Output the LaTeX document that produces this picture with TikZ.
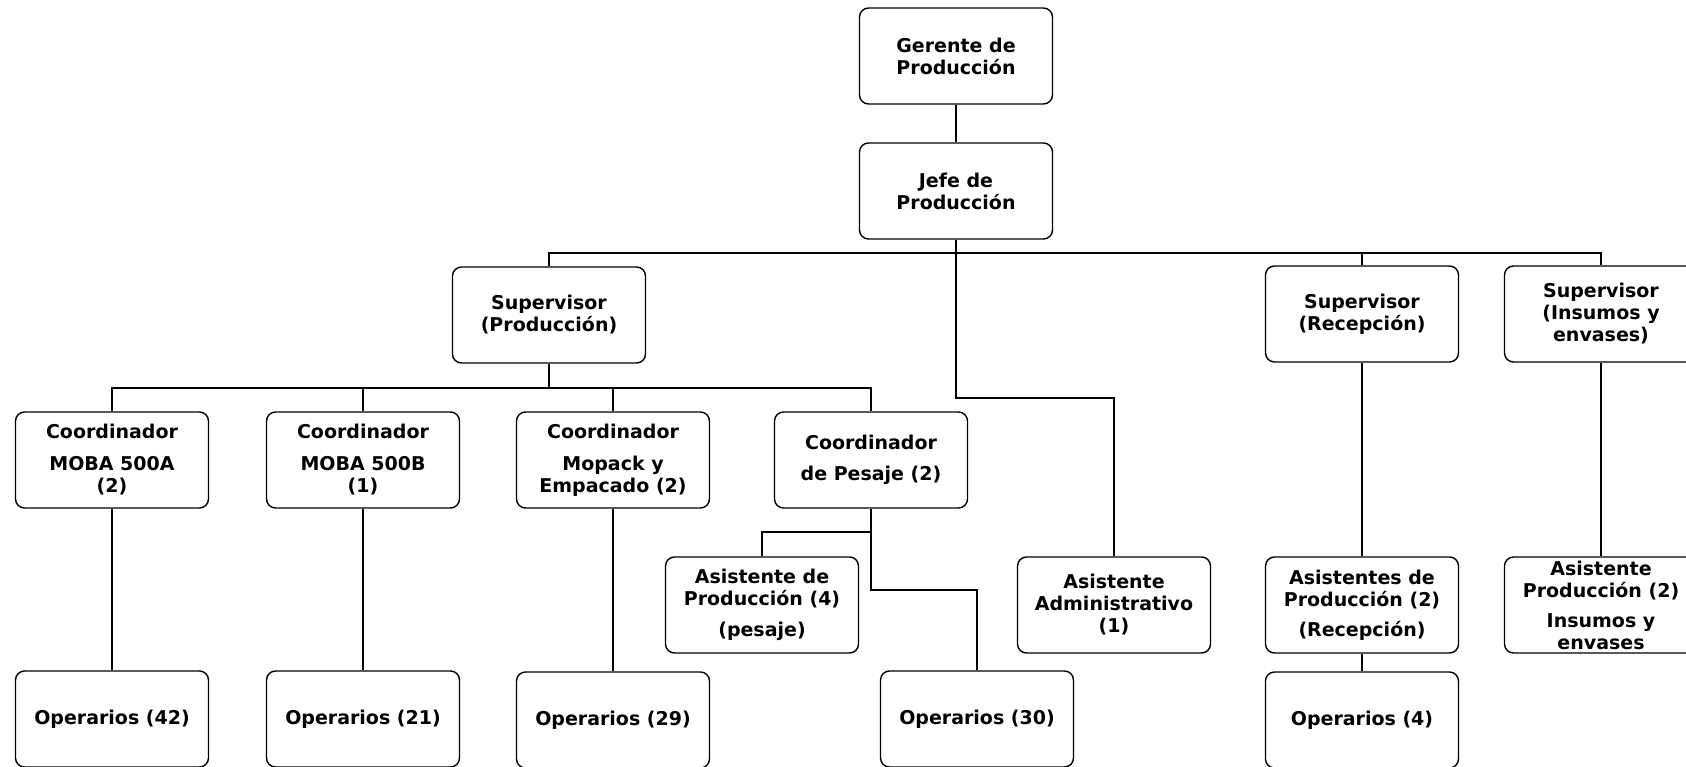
\documentclass[tikz,border=0pt]{standalone}
\usepackage{fontspec}
\setmainfont{DejaVu Sans}
\begin{document}
\begin{tikzpicture}[x=1pt,y=-1pt,
  box/.style={draw, line width=1.4pt, rounded corners=9pt, minimum width=193pt,
    minimum height=96pt, inner sep=0pt, align=center,
    font=\bfseries\fontsize{19}{22}\selectfont},
  conn/.style={line width=1.5pt}]
\useasboundingbox (0,0) rectangle (1686,767);
\fill[white] (0,0) rectangle (1686,767);
% level 0-1
\node[box] (ger) at (956,56) {Gerente de\\Producción};
\node[box] (jefe) at (956,191) {Jefe de\\Producción};
% supervisors
\node[box] (supP) at (549,315) {Supervisor\\(Producción)};
\node[box] (supR) at (1362,314) {Supervisor\\(Recepción)};
\node[box] (supI) at (1601,314) {Supervisor\\(Insumos y\\envases)};
% coordinators
\node[box] (cA) at (112,460) {Coordinador\\[10pt]MOBA 500A\\(2)};
\node[box] (cB) at (363,460) {Coordinador\\[10pt]MOBA 500B\\(1)};
\node[box] (cM) at (613,460) {Coordinador\\[10pt]Mopack y\\Empacado (2)};
\node[box] (cP) at (871,460) {Coordinador\\[9pt]de Pesaje (2)};
% assistants
\node[box] (asP) at (762,605) {Asistente de\\Producción (4)\\[9pt](pesaje)};
\node[box] (asAdm) at (1114,605) {Asistente\\Administrativo\\(1)};
\node[box] (asR) at (1362,605) {Asistentes de\\Producción (2)\\[8pt](Recepción)};
\node[box] (asI) at (1601,605) {Asistente\\Producción (2)\\[8pt]Insumos y\\envases};
% operators
\node[box] (op42) at (112,719) {Operarios (42)};
\node[box] (op21) at (363,719) {Operarios (21)};
\node[box] (op29) at (613,720) {Operarios (29)};
\node[box] (op30) at (977,719) {Operarios (30)};
\node[box] (op4) at (1362,720) {Operarios (4)};
% junction coordinates
\coordinate (j1) at (956,253);
\coordinate (j2) at (956,398);
\coordinate (p1) at (549,388);
\coordinate (q1) at (871,532);
\coordinate (q2) at (871,590);
% connectors
\draw[conn] (ger.south) -- (jefe.north);
\draw[conn] (jefe.south) -- (j2) -| (asAdm.north);
\draw[conn] (supP.north) |- (j1) -| (supI.north);
\draw[conn] (supR.north) -- (supR.north |- j1);
\draw[conn] (supP.south) -- (p1);
\draw[conn] (cA.north) |- (p1) -| (cP.north);
\draw[conn] (cB.north) -- (cB.north |- p1);
\draw[conn] (cM.north) -- (cM.north |- p1);
\draw[conn] (cA.south) -- (op42.north);
\draw[conn] (cB.south) -- (op21.north);
\draw[conn] (cM.south) -- (op29.north);
\draw[conn] (cP.south) -- (q1) -| (asP.north);
\draw[conn] (q1) -- (q2) -| (op30.north);
\draw[conn] (supR.south) -- (asR.north);
\draw[conn] (asR.south) -- (op4.north);
\draw[conn] (supI.south) -- (asI.north);
\end{tikzpicture}
\end{document}
